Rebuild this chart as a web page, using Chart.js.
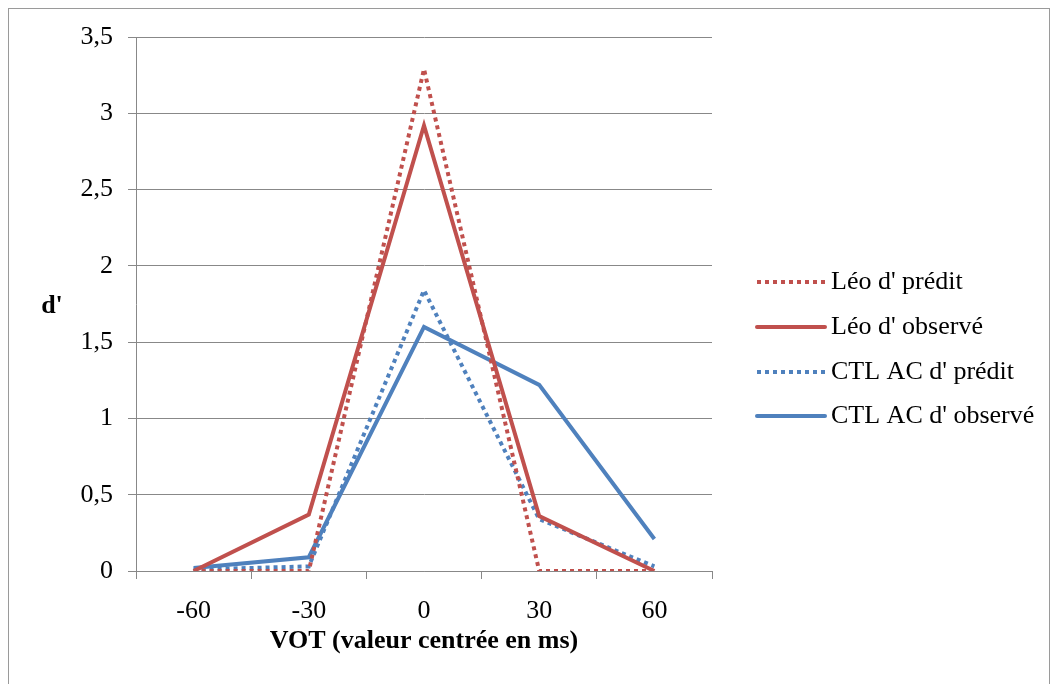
<!DOCTYPE html>
<html>
<head>
<meta charset="utf-8">
<script src="https://cdn.jsdelivr.net/npm/chart.js@4/dist/chart.umd.min.js"></script>
<style>
  html, body { margin: 0; padding: 0; background: #fff; }
  #wrap { width: 1058px; height: 684px; }
</style>
</head>
<body>
<div id="wrap"><canvas id="chart" width="1058" height="684"></canvas></div>
<script>
// données
const categories = ['-60', '-30', '0', '30', '60'];
const leoPredit = [0, 0, 3.29, 0, 0];
const leoObserve = [0, 0.37, 2.92, 0.36, 0];
const ctlPredit = [0.01, 0.03, 1.84, 0.34, 0.03];
const ctlObserve = [0.02, 0.09, 1.60, 1.22, 0.21];
const seriesLabels = ["Léo d' prédit", "Léo d' observé", "CTL AC d' prédit", "CTL AC d' observé"];

const RED = '#C0504D';
const BLUE = '#4F81BD';
const GRID = '#888888';
const FONT = '"Liberation Serif", "Times New Roman", serif';

// cadre, titres des axes et légende
const decorPlugin = {
    id: 'decor',
    beforeDraw(chart) {
        const ctx = chart.ctx;
        ctx.save();
        ctx.fillStyle = '#fff';
        ctx.fillRect(0, 0, chart.width, chart.height);
        ctx.strokeStyle = '#9a9a9a';
        ctx.lineWidth = 1;
        ctx.strokeRect(8.5, 8.5, 1041, 700);
        ctx.restore();
    },
    afterDraw(chart) {
        const ctx = chart.ctx;
        ctx.save();
        ctx.fillStyle = '#000';
        ctx.font = 'bold 26px ' + FONT;
        ctx.textAlign = 'center';
        ctx.textBaseline = 'middle';
        ctx.fillText("d'", 52, 306);
        ctx.fillText('VOT (valeur centrée en ms)', 424, 641);

        // légende
        const rows = [282, 327, 372, 416];
        chart.data.datasets.forEach((ds, i) => {
            const y = rows[i];
            ctx.strokeStyle = ds.borderColor;
            ctx.lineWidth = ds.borderWidth;
            ctx.setLineDash(ds.borderDash || []);
            ctx.lineCap = ds.borderDash ? 'butt' : 'round';
            ctx.beginPath();
            ctx.moveTo(757, y);
            ctx.lineTo(825, y);
            ctx.stroke();
            ctx.setLineDash([]);
            ctx.font = '26px ' + FONT;
            ctx.textAlign = 'left';
            ctx.fillStyle = '#000';
            ctx.fillText(ds.label, 831, y);
        });
        ctx.restore();
    }
};

function makeDataset(label, data, color, dotted) {
    return {
        label: label,
        data: data,
        borderColor: color,
        backgroundColor: color,
        borderWidth: 4,
        borderDash: dotted ? [4, 4] : undefined,
        pointRadius: 0,
        pointHoverRadius: 0,
        tension: 0,
        fill: false
    };
}

new Chart(document.getElementById('chart').getContext('2d'), {
    type: 'line',
    data: {
        labels: categories,
        datasets: [
            makeDataset(seriesLabels[0], leoPredit, RED, true),
            makeDataset(seriesLabels[1], leoObserve, RED, false),
            makeDataset(seriesLabels[2], ctlPredit, BLUE, true),
            makeDataset(seriesLabels[3], ctlObserve, BLUE, false)
        ]
    },
    options: {
        responsive: false,
        animation: false,
        layout: { padding: { left: 0, top: 37, right: 346, bottom: 0 } },
        plugins: {
            legend: { display: false },
            tooltip: { enabled: false }
        },
        scales: {
            x: {
                offset: true,
                grid: {
                    offset: true,
                    drawOnChartArea: false,
                    color: GRID,
                    tickLength: 8
                },
                border: { color: GRID },
                ticks: {
                    color: '#000',
                    font: { family: FONT, size: 26 },
                    padding: 17,
                    maxRotation: 0
                },
                afterFit(scale) { scale.height = 113; }
            },
            y: {
                min: 0,
                max: 3.5,
                ticks: {
                    stepSize: 0.5,
                    color: '#000',
                    font: { family: FONT, size: 26 },
                    padding: 15,
                    callback: v => String(v).replace('.', ',')
                },
                grid: { color: GRID, tickLength: 8 },
                border: { color: GRID },
                afterFit(scale) { scale.width = 136; }
            }
        }
    },
    plugins: [decorPlugin]
});
</script>
</body>
</html>
